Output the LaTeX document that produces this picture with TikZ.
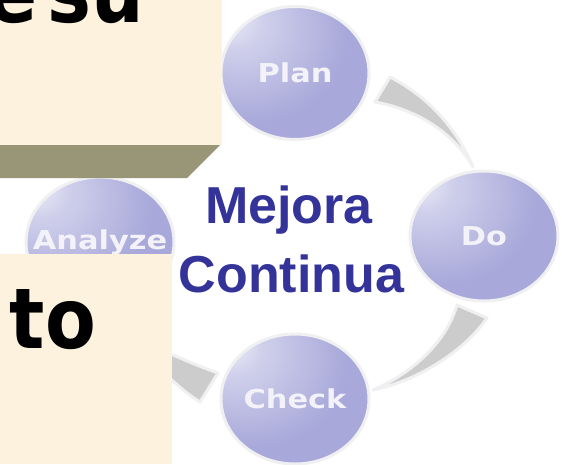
\documentclass[tikz,border=0pt]{standalone}
\usepackage{fontspec}
\usepackage{graphicx}
\usetikzlibrary{shapes.geometric}
\setmainfont{DejaVu Sans}
\newfontfamily\arialfont{Liberation Sans}
\definecolor{lav}{RGB}{168,168,218}
\definecolor{lavhl}{RGB}{240,240,250}
\definecolor{beige}{RGB}{253,242,221}
\definecolor{olive}{RGB}{152,150,118}
\definecolor{arcgray}{RGB}{204,204,204}
\definecolor{halo}{RGB}{240,240,242}
\definecolor{mejblue}{RGB}{51,51,153}
\definecolor{lbl}{RGB}{242,242,248}
\pgfdeclareradialshading{orb}{\pgfpoint{-24bp}{22bp}}{color(0bp)=(lavhl); color(10bp)=(lav!45!lavhl); color(32bp)=(lav); color(80bp)=(lav)}
\tikzset{
  orb/.style={ellipse, minimum width=148pt, minimum height=130pt, inner sep=0pt,
    shade, shading=orb, draw=halo, line width=3pt, text=lbl,
    font=\bfseries\fontsize{26}{26}\selectfont},
  cyclearc/.style={fill=arcgray, draw=halo, line width=3pt, line join=round},
  boxfill/.style={fill=beige},
  bigtext/.style={inner sep=0pt, text=black, font=\bfseries\fontsize{84}{84}\selectfont},
  mejtext/.style={inner sep=0pt, text=mejblue, font=\arialfont\bfseries\fontsize{52}{52}\selectfont}
}
\newcommand{\orblabel}[1]{\makebox[0pt]{\scalebox{1.17}[1]{#1}}}
\begin{document}
\begin{tikzpicture}[x=1pt,y=-1pt]
\useasboundingbox (0,0) rectangle (562,464);
\fill[white] (0,0) rectangle (562,464);
% connecting arcs
\draw[cyclearc] (390,77) .. controls (425,95) and (455,125) .. (473,167)
  .. controls (455,135) and (420,110) .. (375,102) -- cycle;
\draw[cyclearc] (457,305) .. controls (447,340) and (415,372) .. (373,390)
  .. controls (420,380) and (465,350) .. (487,318) -- cycle;
\draw[cyclearc] (218,373) .. controls (195,365) and (160,350) .. (120,330)
  .. controls (150,360) and (180,390) .. (200,402) -- cycle;
% circles
\node[orb, minimum height=133pt] (plan) at (295,73) {\orblabel{Plan}};
\node[orb] (do) at (484,236) {\orblabel{Do}};
\node[orb] (check) at (295,399) {\orblabel{Check}};
\node[orb] (analyze) at (100,242) {\orblabel{Analyze}};
% top box
\fill[boxfill] (0,0) rectangle (222,145);
\fill[olive] (0,145) -- (220,145) -- (187,178) -- (0,178) -- cycle;
\begin{scope}
  \clip (0,0) rectangle (222,145);
  \node[bigtext, anchor=base east] (esu) at (144,22) {\scalebox{0.88}[1]{e\kern-0.22em\ su}};
\end{scope}
% bottom box
\fill[boxfill] (0,254) rectangle (172,464);
\begin{scope}
  \clip (0,254) rectangle (172,464);
  \node[bigtext, anchor=base east] (nto) at (96,348) {\scalebox{0.88}[1]{n\kern0.08em to}};
\end{scope}
% center text
\node[mejtext, anchor=base] (mejora) at (289,223) {Mejora};
\node[mejtext, anchor=base] (continua) at (291.5,292) {Continua};
\end{tikzpicture}
\end{document}
